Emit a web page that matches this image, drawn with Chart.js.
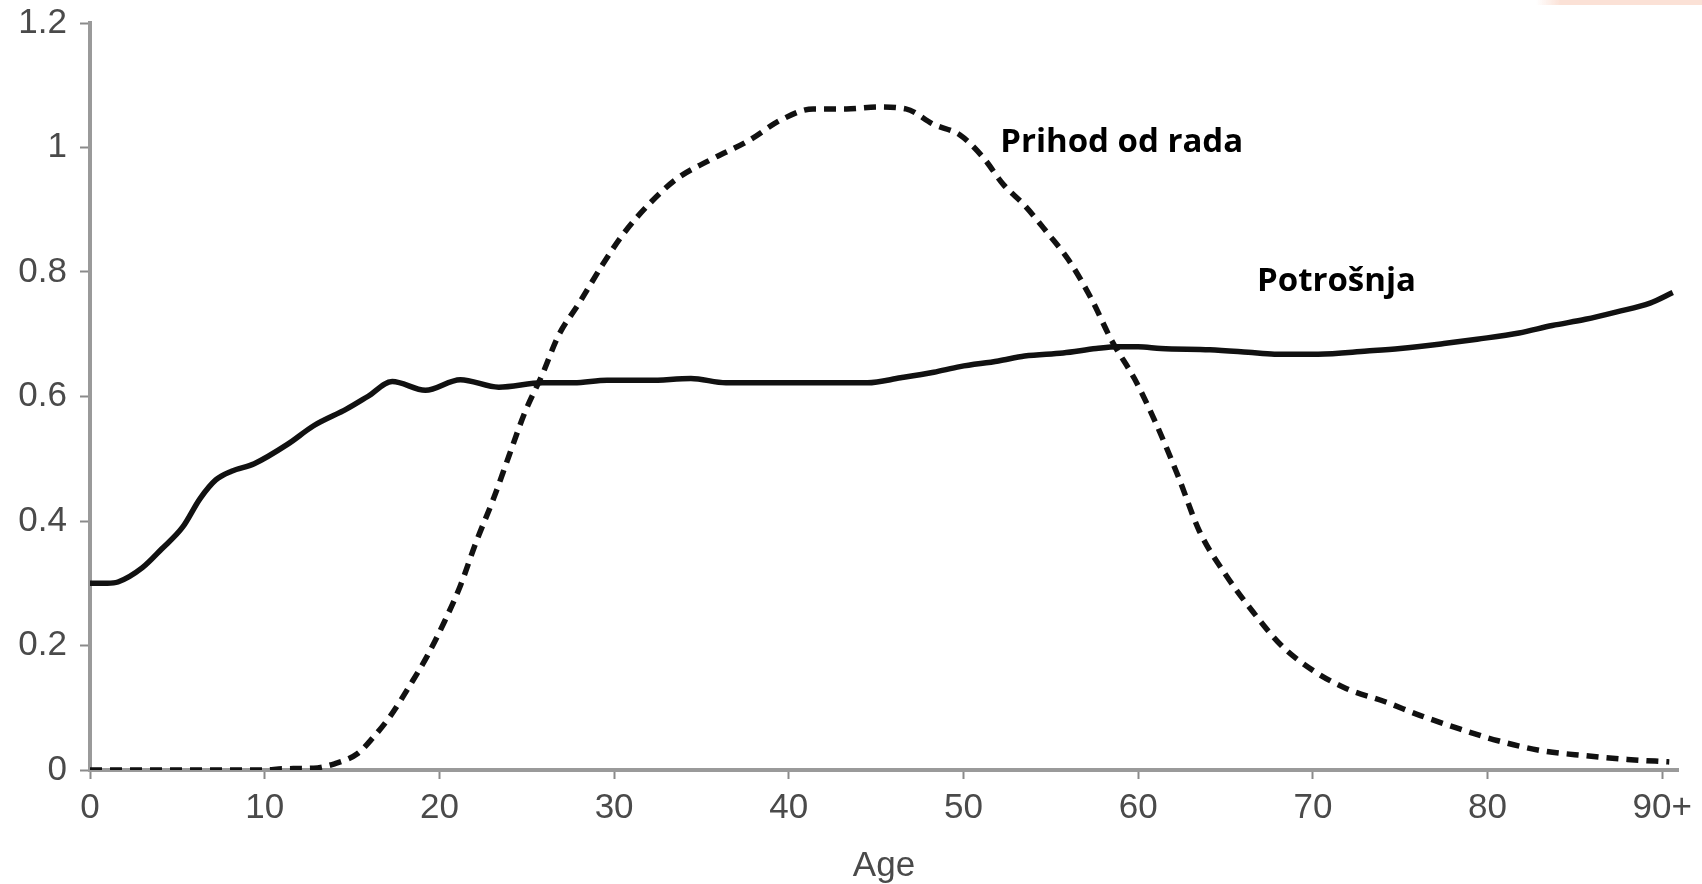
<!DOCTYPE html>
<html>
<head>
<meta charset="utf-8">
<script src="https://cdn.jsdelivr.net/npm/chart.js@4"></script>
<style>
  body { margin: 0; background: #fff; }
  #wrap { position: relative; width: 1702px; height: 884px; }
  #corner { position: absolute; left: 1536px; top: 0; width: 166px; height: 5px;
            background: linear-gradient(to right, rgba(251,227,217,0), #fbe1d6 15%, #fbe1d6); }
</style>
</head>
<body>
<div id="wrap">
  <canvas id="chart" width="1702" height="884"></canvas>
  <div id="corner"></div>
</div>
<script>
// consumption (solid line)
const consAge = [0, 1, 1.6, 3, 4.1, 5.3, 6.3, 7.2, 8.1, 9.4, 11.3, 12.8, 14.7, 15.9, 17.3, 19.2, 21.2, 23.4, 25.9, 27.7, 29.6, 32, 34.4, 36.4, 38, 42, 44.5, 46.4, 48.3, 49.8, 52, 53.5, 55.7, 57.6, 58.8, 60, 61.3, 64.1, 66.3, 67.8, 70.3, 73.1, 75, 77.5, 79.4, 81.8, 83.7, 85.6, 87.4, 89.3, 90.6];
const consValue = [0.30, 0.30, 0.302, 0.325, 0.355, 0.39, 0.436, 0.466, 0.48, 0.492, 0.523, 0.553, 0.58, 0.60, 0.624, 0.61, 0.627, 0.615, 0.622, 0.622, 0.626, 0.626, 0.629, 0.622, 0.622, 0.622, 0.622, 0.630, 0.639, 0.648, 0.657, 0.665, 0.670, 0.677, 0.680, 0.680, 0.677, 0.675, 0.671, 0.668, 0.668, 0.673, 0.677, 0.685, 0.692, 0.702, 0.714, 0.724, 0.736, 0.750, 0.767];

// labour income (dashed line)
const incAge = [0, 5, 10, 11, 12.8, 14, 15.3, 16.2, 17.2, 18.4, 19.3, 20.3, 21.2, 22.1, 23.1, 24, 24.9, 25.9, 26.8, 28, 29.3, 30.5, 32.1, 33.6, 35.5, 37.7, 39.6, 41.4, 43.3, 45.1, 46.7, 48.3, 49.8, 51.1, 52.3, 53.5, 54.8, 56, 57.3, 58.5, 59.8, 61, 62.3, 63.5, 65, 66.6, 68.2, 70, 71.9, 74.1, 76.2, 78.4, 80.6, 83.1, 85.6, 88, 90.4];
const incValue = [0, 0, 0, 0.002, 0.003, 0.01, 0.026, 0.052, 0.087, 0.14, 0.183, 0.239, 0.296, 0.366, 0.436, 0.506, 0.575, 0.636, 0.697, 0.75, 0.81, 0.86, 0.912, 0.95, 0.98, 1.011, 1.045, 1.062, 1.062, 1.065, 1.062, 1.037, 1.02, 0.985, 0.94, 0.907, 0.863, 0.82, 0.758, 0.689, 0.628, 0.558, 0.471, 0.384, 0.314, 0.253, 0.2, 0.16, 0.131, 0.11, 0.087, 0.066, 0.047, 0.031, 0.023, 0.017, 0.013];

const xTicks = [0, 10, 20, 30, 40, 50, 60, 70, 80, 90];
const xTickLabels = ['0', '10', '20', '30', '40', '50', '60', '70', '80', '90+'];
const yTicks = [0, 0.2, 0.4, 0.6, 0.8, 1, 1.2];
const yTickLabels = ['0', '0.2', '0.4', '0.6', '0.8', '1', '1.2'];

const seriesNames = ['Potrošnja', 'Prihod od rada'];

const toPoints = (xs, ys) => xs.map((x, i) => ({ x: x, y: ys[i] }));

// text labels next to the curves, placed in data units
const curveLabels = {
  id: 'curveLabels',
  afterDatasetsDraw(chart) {
    const { ctx, scales } = chart;
    ctx.save();
    ctx.fillStyle = '#000';
    ctx.font = 'bold 33px "Open Sans"';
    ctx.textBaseline = 'alphabetic';
    ctx.fillText(seriesNames[1], scales.x.getPixelForValue(52.1), scales.y.getPixelForValue(0.993));
    ctx.fillText(seriesNames[0], scales.x.getPixelForValue(66.8), scales.y.getPixelForValue(0.769));
    ctx.restore();
  }
};

const tickFont = { family: '"Liberation Sans", Arial, sans-serif', size: 35 };

new Chart(document.getElementById('chart'), {
  type: 'scatter',
  data: {
    datasets: [
      {
        label: seriesNames[0],
        data: toPoints(consAge, consValue),
        showLine: true,
        borderColor: '#111',
        borderWidth: 5.5,
        pointRadius: 0,
        cubicInterpolationMode: 'monotone',
      },
      {
        label: seriesNames[1],
        data: toPoints(incAge, incValue),
        showLine: true,
        borderColor: '#111',
        borderWidth: 5.5,
        borderDash: [12, 8],
        pointRadius: 0,
        cubicInterpolationMode: 'monotone',
      },
    ],
  },
  plugins: [curveLabels],
  options: {
    responsive: false,
    animation: false,
    layout: { padding: { top: 23, right: 24, left: 0, bottom: 0 } },
    plugins: {
      legend: { display: false },
      tooltip: { enabled: false },
    },
    scales: {
      x: {
        type: 'linear',
        min: 0,
        max: 90.9,
        afterFit: (scale) => { scale.height = 114; scale.paddingRight = 0; scale.paddingLeft = 0; },
        afterBuildTicks: (scale) => { scale.ticks = xTicks.map(v => ({ value: v })); },
        ticks: {
          color: '#4a4a4a',
          font: tickFont,
          padding: 8,
          callback: (value) => xTickLabels[xTicks.indexOf(value)],
        },
        grid: { drawOnChartArea: false, tickLength: 9, tickColor: '#8a8a8a', tickWidth: 2 },
        border: { color: '#9a9a9a', width: 4 },
        title: {
          display: true,
          text: 'Age',
          color: '#4a4a4a',
          font: tickFont,
          padding: { top: 4, bottom: -3 },
        },
      },
      y: {
        min: 0,
        max: 1.2,
        afterFit: (scale) => { scale.width = 90; scale.paddingTop = 0; scale.paddingBottom = 0; },
        afterBuildTicks: (scale) => { scale.ticks = yTicks.map(v => ({ value: v })); },
        ticks: {
          color: '#4a4a4a',
          font: tickFont,
          padding: 13,
          callback: (value) => yTickLabels[yTicks.indexOf(value)],
        },
        grid: { drawOnChartArea: false, tickLength: 10, tickColor: '#8a8a8a', tickWidth: 2 },
        border: { color: '#9a9a9a', width: 4 },
      },
    },
  },
});
</script>
</body>
</html>
